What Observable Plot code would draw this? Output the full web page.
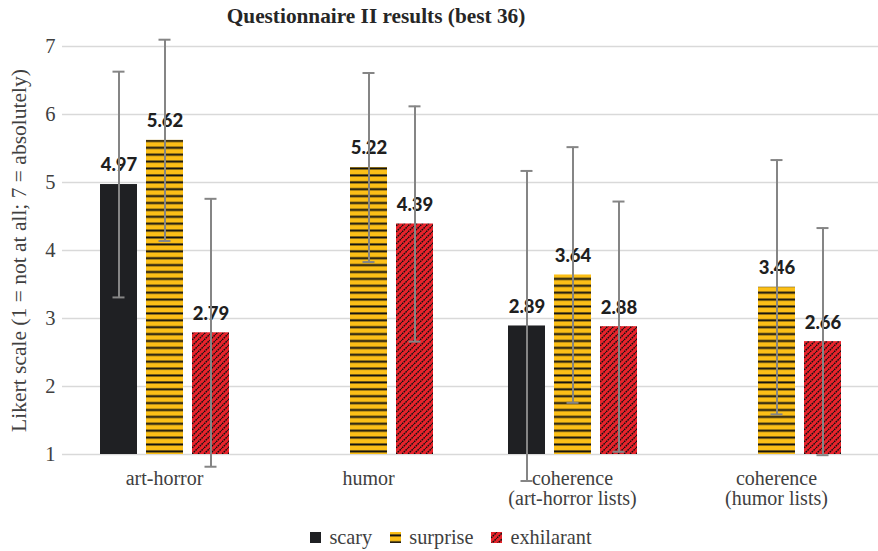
<!DOCTYPE html>
<html>
<head>
<meta charset="utf-8">
<script src="https://cdn.jsdelivr.net/npm/d3@7"></script>
<script src="https://cdn.jsdelivr.net/npm/@observablehq/plot@0.6"></script>
<style>
  body { margin: 0; background: #fff; width: 878px; height: 551px; overflow: hidden; }
  #title { width: 752px; height: 34px; padding-top: 3px; box-sizing: border-box; text-align: center;
           font-family: "Liberation Serif", "Times New Roman", serif; font-weight: bold;
           font-size: 21.3px; line-height: 26px; color: #262626; }
  #chart svg { display: block; overflow: visible; }
  #legend { display: flex; justify-content: center; align-items: center; gap: 18px;
            height: 37px; margin-left: 24px; padding-top: 9px; box-sizing: border-box;
            font-family: "Liberation Serif", "Times New Roman", serif; font-size: 20.3px; color: #404040; }
  #legend .item { display: flex; align-items: center; gap: 8px; }
  #defs { position: absolute; width: 0; height: 0; }
</style>
</head>
<body>
<svg id="defs" aria-hidden="true">
  <defs>
    <pattern id="stripes" patternUnits="userSpaceOnUse" width="8" height="6.9">
      <rect width="8" height="6.9" fill="#fcbf17"></rect>
      <rect y="2.4" width="8" height="2" fill="#111"></rect>
    </pattern>
    <pattern id="hatch" patternUnits="userSpaceOnUse" width="6" height="6">
      <rect width="6" height="6" fill="#e8232b"></rect>
      <path d="M-1.5,1.5 L1.5,-1.5 M0,6 L6,0 M4.5,7.5 L7.5,4.5" stroke="#111" stroke-width="1.5" stroke-dasharray="1.7 0.8"></path>
    </pattern>
  </defs>
</svg>
<div id="title">Questionnaire II results (best 36)</div>
<div id="chart"></div>
<div id="legend"></div>
<script>
// Questionnaire categories (line breaks become two-line axis labels)
const categories = ["art-horror", "humor", "coherence\n(art-horror lists)", "coherence\n(humor lists)"];
const series = ["scary", "surprise", "exhilarant"];

// Mean ratings per category (null = not asked)
const scary      = [4.97, null, 2.89, null];
const surprise   = [5.62, 5.22, 3.64, 3.46];
const exhilarant = [2.79, 4.39, 2.88, 2.66];

// Standard deviations for the error bars
const scarySd      = [1.66, null, 2.28, null];
const surpriseSd   = [1.48, 1.39, 1.88, 1.87];
const exhilarantSd = [1.97, 1.73, 1.84, 1.67];

const yTicks = [1, 2, 3, 4, 5, 6, 7];
const fills = ["#1f2023", "url(#stripes)", "url(#hatch)"];

const means = [scary, surprise, exhilarant];
const sds = [scarySd, surpriseSd, exhilarantSd];
const rows = [];
categories.forEach((c, i) => {
  series.forEach((s, j) => {
    if (means[j][i] != null) rows.push({category: c, series: s, value: means[j][i], sd: sds[j][i]});
  });
});

const chart = Plot.plot({
  width: 878,
  height: 480,
  marginTop: 12,
  marginBottom: 60,
  marginLeft: 62,
  marginRight: 0,
  style: {background: "transparent", fontFamily: "'Liberation Serif', 'Times New Roman', serif",
          fontSize: "20px", color: "#404040"},
  fx: {domain: categories, padding: 0},
  x: {domain: series, paddingInner: 0.196, paddingOuter: 0.815, axis: null},
  y: {domain: [1, 7]},
  color: {domain: series, range: fills},
  marks: [
    Plot.gridY(yTicks, {stroke: "#d9d9d9", strokeOpacity: 1, strokeWidth: 1.6}),
    // tick labels
    Plot.axisY({ticks: yTicks, tickFormat: d => String(d), tickSize: 0, tickPadding: 7,
                fontSize: 20.5, label: null}),
    // axis title, slightly larger than the tick labels and set a little above centre
    Plot.axisY({ticks: [], tickSize: 0, fontSize: 21.5, dy: -9,
                label: "Likert scale (1 = not at all; 7 = absolutely)",
                labelAnchor: "center", labelArrow: "none", labelOffset: 52}),
    Plot.axisFx({anchor: "bottom", tickSize: 0, tickPadding: 16, fontSize: 20,
                 label: null, tickFormat: d => d}),
    Plot.barY(rows, {fx: "category", x: "series", y1: 1, y2: "value", fill: "series"}),
    Plot.text(rows, {fx: "category", x: "series", y: "value", text: d => d.value.toFixed(2),
                     dy: -19, fontSize: 18.5, fontWeight: 900, fontFamily: "Lato", fill: "#1f1f1f"}),
    Plot.ruleX(rows, {fx: "category", x: "series", y1: d => d.value - d.sd, y2: d => d.value + d.sd,
                      stroke: "#858585", strokeWidth: 2}),
    Plot.tickY(rows, {fx: "category", x: "series", y: d => d.value + d.sd,
                      stroke: "#858585", strokeWidth: 2, insetLeft: 12.5, insetRight: 12.5}),
    Plot.tickY(rows, {fx: "category", x: "series", y: d => d.value - d.sd,
                      stroke: "#858585", strokeWidth: 2, insetLeft: 12.5, insetRight: 12.5})
  ]
});
document.getElementById("chart").append(chart);

// Legend with pattern swatches
const legend = d3.select("#legend");
series.forEach((s, j) => {
  const item = legend.append("div").attr("class", "item");
  item.append("svg").attr("width", 11).attr("height", 11)
    .append("rect").attr("width", 11).attr("height", 11).attr("fill", fills[j]);
  item.append("span").text(s);
});
</script>
</body>
</html>
